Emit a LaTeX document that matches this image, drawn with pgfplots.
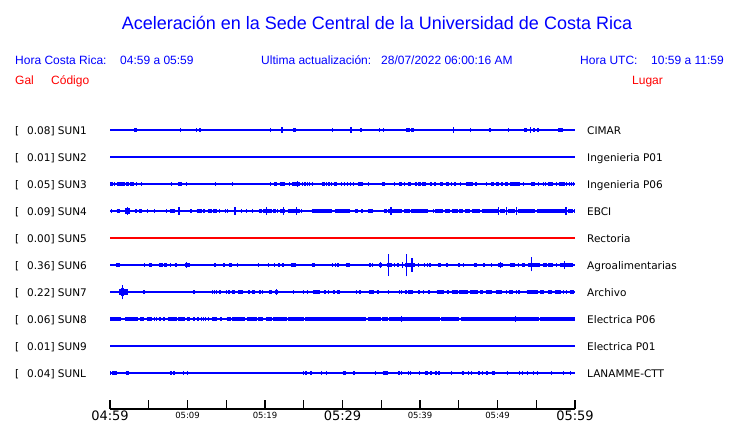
\documentclass[border=0pt]{standalone}
\usepackage{pgfplots}
\pgfplotsset{compat=1.18}
\usepackage{fontspec}
\setmainfont{DejaVu Sans}
\newfontfamily\arial{Liberation Sans}
\definecolor{pblue}{RGB}{0,0,255}
\definecolor{pred}{RGB}{255,0,0}
\pgfplotsset{
  trace/.style={pblue, line width=1.2pt, mark=none},
  blob/.style={pblue, line width=#1, mark=none},
  blob/.default=3.5pt,
  spike/.style={draw=none, mark=none, error bars/.cd, y dir=both, y fixed=#1, error mark=none,
     error bar style={draw=pblue, line width=1.3pt, solid}},
  spike/.default=0.07,
  seg/.style={pblue, line width=1.3pt, mark=none},
}
\begin{document}
\begin{tikzpicture}[x=1pt,y=1pt]
\path[use as bounding box] (0,0) rectangle (740,423);
\begin{axis}[
  at={(110pt,14pt)}, anchor=south west,
  width=465pt, height=297pt, scale only axis,
  xmin=0, xmax=60, ymin=-11.3333, ymax=-0.3333,
  clip=false, hide y axis, axis x line*=bottom,
  axis line style={black, line width=1.2pt},
  tick align=inside, major tick length=9pt,
  tick style={black, line width=1.2pt},
  xtick={0,5,...,60},
  xticklabels={04:59,{},\raisebox{2.2pt}{\fontsize{8.5}{8.5}\selectfont 05:09},{},\raisebox{2.2pt}{\fontsize{8.5}{8.5}\selectfont 05:19},{},05:29,{},\raisebox{2.2pt}{\fontsize{8.5}{8.5}\selectfont 05:39},{},\raisebox{2.2pt}{\fontsize{8.5}{8.5}\selectfont 05:49},{},05:59},
  xticklabel style={anchor=base, inner sep=0pt, yshift=-11.5pt, font=\fontsize{13}{13}\selectfont},
  unbounded coords=jump,
]
% ---------- SUN1 ----------
\addplot[trace] coordinates {(0,-1)(60,-1)};
\addplot[blob] coordinates {(3.15,-1)(3.45,-1)(nan,nan)(23.65,-1)(23.95,-1)(nan,nan)(38.25,-1)(38.75,-1)(nan,nan)(38.9,-1)(39.2,-1)(nan,nan)(48.85,-1)(49.15,-1)(nan,nan)(53.45,-1)(53.75,-1)(nan,nan)(54.6,-1)(54.85,-1)(nan,nan)(55.1,-1)(55.35,-1)(nan,nan)(57.85,-1)(58.4,-1)};
\addplot[spike] coordinates {(9.1,-1)(11.2,-1)(11.6,-1)(20.7,-1)(28.7,-1)(32.4,-1)(34.8,-1)(35.3,-1)(46.5,-1)(51.4,-1)};
\addplot[spike=0.11] coordinates {(22.2,-1)(31.1,-1)(44.3,-1)(54.3,-1)};
% ---------- SUN2 ----------
\addplot[trace] coordinates {(0,-2)(60,-2)};
% ---------- SUN3 ----------
\addplot[trace] coordinates {(0,-3)(60,-3)};
\addplot[blob] coordinates {(0,-3)(0.35,-3)(nan,nan)(0.5,-3)(0.7,-3)(nan,nan)(0.9,-3)(1.5,-3)(nan,nan)(1.6,-3)(1.9,-3)(nan,nan)(2.0,-3)(2.4,-3)(nan,nan)(2.6,-3)(3.1,-3)(nan,nan)(7.85,-3)(8.05,-3)(nan,nan)(21.9,-3)(22.6,-3)(nan,nan)(23.5,-3)(24.5,-3)(nan,nan)(26.0,-3)(26.2,-3)(nan,nan)(27.3,-3)(27.7,-3)(nan,nan)(28.85,-3)(29.25,-3)(nan,nan)(32.0,-3)(32.6,-3)(nan,nan)(35.1,-3)(35.5,-3)(nan,nan)(37.3,-3)(37.7,-3)(nan,nan)(38.5,-3)(38.9,-3)(nan,nan)(39.3,-3)(39.6,-3)(nan,nan)(39.8,-3)(40.1,-3)(nan,nan)(40.3,-3)(40.8,-3)(nan,nan)(42.6,-3)(43.0,-3)(nan,nan)(43.3,-3)(43.7,-3)(nan,nan)(46.0,-3)(46.8,-3)(nan,nan)(49.2,-3)(49.6,-3)(nan,nan)(49.8,-3)(50.2,-3)(nan,nan)(50.45,-3)(50.75,-3)(nan,nan)(51.0,-3)(51.4,-3)(nan,nan)(51.6,-3)(52.9,-3)(nan,nan)(54.3,-3)(54.8,-3)(nan,nan)(56.55,-3)(57.1,-3)(nan,nan)(57.9,-3)(58.7,-3)};
\addplot[spike] coordinates {(3.44,-3)(4.09,-3)(8.9,-3)(9.16,-3)(9.89,-3)(13.63,-3)(15.83,-3)(20.73,-3)(21.29,-3)(21.51,-3)(23.14,-3)(24.82,-3)(25.16,-3)(25.51,-3)(25.76,-3)(27.96,-3)(28.26,-3)(28.6,-3)(29.89,-3)(30.24,-3)(30.62,-3)(31.01,-3)(31.4,-3)(33.33,-3)(36.69,-3)(37.98,-3)(41.42,-3)(41.94,-3)(44.09,-3)(44.52,-3)(45.2,-3)(47.23,-3)(48.6,-3)(53.33,-3)(55.27,-3)(55.91,-3)(56.22,-3)(57.63,-3)(58.92,-3)(59.27,-3)(59.57,-3)(59.78,-3)};
\addplot[spike=0.1] coordinates {(24.22,-3)};
% ---------- SUN4 ----------
\addplot[trace] coordinates {(0,-4)(60,-4)};
\addplot[blob=4pt] coordinates {(0.86,-4)(1.29,-4)(nan,nan)(3.23,-4)(3.53,-4)(nan,nan)(3.74,-4)(4.09,-4)(nan,nan)(7.74,-4)(8.39,-4)(nan,nan)(11.18,-4)(11.83,-4)(nan,nan)(12.69,-4)(13.12,-4)(nan,nan)(13.33,-4)(13.76,-4)(nan,nan)(19.78,-4)(20.86,-4)(nan,nan)(21.08,-4)(21.38,-4)(nan,nan)(21.94,-4)(22.58,-4)(nan,nan)(22.92,-4)(24.52,-4)(nan,nan)(26.02,-4)(28.6,-4)(nan,nan)(29.03,-4)(30.97,-4)(nan,nan)(31.61,-4)(32.04,-4)(nan,nan)(32.39,-4)(32.69,-4)(nan,nan)(33.33,-4)(33.98,-4)(nan,nan)(35.4,-4)(35.7,-4)(nan,nan)(35.91,-4)(37.63,-4)(nan,nan)(37.94,-4)(38.71,-4)(nan,nan)(38.84,-4)(40.99,-4)(nan,nan)(41.94,-4)(43.01,-4)(nan,nan)(43.23,-4)(43.87,-4)(nan,nan)(44.09,-4)(44.86,-4)(nan,nan)(45.08,-4)(45.59,-4)(nan,nan)(45.81,-4)(46.45,-4)(nan,nan)(46.67,-4)(47.74,-4)(nan,nan)(47.96,-4)(50.11,-4)(nan,nan)(50.32,-4)(50.97,-4)(nan,nan)(51.4,-4)(52.26,-4)(nan,nan)(52.69,-4)(54.84,-4)(nan,nan)(55.14,-4)(58.71,-4)(nan,nan)(59.14,-4)(59.78,-4)};
\addplot[blob=6.5pt] coordinates {(1.94,-4)(2.58,-4)};
\addplot[spike] coordinates {(0.22,-4)(4.86,-4)(5.72,-4)(7.31,-4)(10.45,-4)(12.13,-4)(14.11,-4)(14.92,-4)(15.18,-4)(16.99,-4)(17.63,-4)(18.41,-4)(19.35,-4)(19.57,-4)(21.63,-4)(24.73,-4)(41.72,-4)(59.91,-4)};
\addplot[spike=0.13] coordinates {(2.24,-4)(8.9,-4)(16.13,-4)(20.22,-4)(22.37,-4)(24.09,-4)(36.26,-4)(50.11,-4)(51.18,-4)(52.47,-4)(58.84,-4)};
% ---------- SUN5 ----------
\addplot[pred, line width=1.2pt, mark=none] coordinates {(0,-5)(60,-5)};
% ---------- SUN6 ----------
\addplot[trace] coordinates {(0,-6)(60,-6)};
\addplot[blob] coordinates {(0.8,-6)(1.3,-6)(nan,nan)(5.0,-6)(5.4,-6)(nan,nan)(6.3,-6)(6.9,-6)(nan,nan)(8.35,-6)(8.6,-6)(nan,nan)(9.65,-6)(10.05,-6)(nan,nan)(14.6,-6)(14.85,-6)(nan,nan)(15.35,-6)(15.7,-6)(nan,nan)(21.7,-6)(21.95,-6)(nan,nan)(22.15,-6)(22.45,-6)(nan,nan)(23.35,-6)(23.95,-6)(nan,nan)(26.0,-6)(26.4,-6)(nan,nan)(29.3,-6)(29.6,-6)(nan,nan)(30.45,-6)(30.95,-6)(nan,nan)(34.7,-6)(35.05,-6)(nan,nan)(35.7,-6)(36.35,-6)(nan,nan)(37.0,-6)(37.3,-6)(nan,nan)(38.05,-6)(39.35,-6)(nan,nan)(42.35,-6)(42.7,-6)(nan,nan)(43.3,-6)(43.65,-6)(nan,nan)(47.0,-6)(47.3,-6)(nan,nan)(48.15,-6)(48.45,-6)(nan,nan)(50.1,-6)(50.75,-6)(nan,nan)(51.6,-6)(52.25,-6)(nan,nan)(53.1,-6)(53.55,-6)(nan,nan)(53.95,-6)(55.5,-6)(nan,nan)(55.9,-6)(56.35,-6)(nan,nan)(56.55,-6)(57.2,-6)(nan,nan)(58.05,-6)(59.8,-6)};
\addplot[spike] coordinates {(4.43,-6)(7.1,-6)(7.31,-6)(7.83,-6)(10.19,-6)(13.55,-6)(16.47,-6)(19.14,-6)(20.43,-6)(21.2,-6)(28.69,-6)(29.12,-6)(33.55,-6)(33.85,-6)(36.69,-6)(39.78,-6)(40.56,-6)(40.99,-6)(41.29,-6)(45.03,-6)(45.63,-6)(49.25,-6)(52.69,-6)(57.63,-6)};
\addplot[spike=0.12] coordinates {(9.85,-6)(34.88,-6)(37.76,-6)(50.37,-6)};
\addplot[spike=0.16] coordinates {(58.62,-6)};
\addplot[seg] coordinates {(35.91,-6.41)(35.91,-5.59)(nan,nan)(38.24,-6.42)(38.24,-5.58)(nan,nan)(38.97,-6.25)(38.97,-5.75)(nan,nan)(54.37,-6.24)(54.37,-5.71)};
% ---------- SUN7 ----------
\addplot[trace] coordinates {(0,-7)(60,-7)};
\addplot[blob=5.5pt] coordinates {(1.2,-7)(2.3,-7)};
\addplot[blob=8.5pt] coordinates {(1.4,-7)(1.85,-7)};
\addplot[seg] coordinates {(1.59,-7.27)(1.59,-6.73)};
\addplot[blob=4pt] coordinates {(4.3,-7)(4.55,-7)(nan,nan)(15.7,-7)(16.13,-7)(nan,nan)(16.56,-7)(17.2,-7)(nan,nan)(18.37,-7)(18.71,-7)(nan,nan)(20.56,-7)(20.86,-7)(nan,nan)(21.29,-7)(21.72,-7)(nan,nan)(26.24,-7)(27.1,-7)(nan,nan)(29.25,-7)(29.68,-7)(nan,nan)(33.46,-7)(34.11,-7)(nan,nan)(34.41,-7)(34.71,-7)(nan,nan)(38.49,-7)(39.14,-7)(nan,nan)(40.99,-7)(41.29,-7)(nan,nan)(42.15,-7)(43.14,-7)(nan,nan)(43.44,-7)(43.78,-7)(nan,nan)(44.09,-7)(44.86,-7)(nan,nan)(45.03,-7)(46.24,-7)(nan,nan)(46.45,-7)(47.44,-7)(nan,nan)(47.74,-7)(48.17,-7)(nan,nan)(48.47,-7)(49.33,-7)(nan,nan)(49.76,-7)(50.62,-7)(nan,nan)(51.48,-7)(52.04,-7)(nan,nan)(53.76,-7)(55.27,-7)(nan,nan)(55.48,-7)(55.96,-7)(nan,nan)(56.56,-7)(56.99,-7)(nan,nan)(57.42,-7)(58.19,-7)(nan,nan)(59.35,-7)(59.91,-7)};
\addplot[spike] coordinates {(10.84,-7)(13.2,-7)(13.46,-7)(13.76,-7)(14.19,-7)(15.05,-7)(15.35,-7)(17.94,-7)(19.35,-7)(19.66,-7)(23.66,-7)(24.95,-7)(25.46,-7)(27.74,-7)(28.17,-7)(28.9,-7)(31.83,-7)(32.26,-7)(35.91,-7)(37.38,-7)(37.63,-7)(38.19,-7)(39.87,-7)(40.43,-7)(51.18,-7)(52.47,-7)(52.77,-7)(58.49,-7)(58.92,-7)};
\addplot[spike=0.11] coordinates {(21.46,-7)};
% ---------- SUN8 ----------
\addplot[trace] coordinates {(0,-8)(60,-8)};
\addplot[blob=4.5pt] coordinates {(0,-8)(1.42,-8)(nan,nan)(1.94,-8)(3.66,-8)(nan,nan)(3.87,-8)(4.43,-8)(nan,nan)(4.73,-8)(5.38,-8)(nan,nan)(5.65,-8)(5.8,-8)(nan,nan)(5.95,-8)(6.1,-8)(nan,nan)(6.32,-8)(6.58,-8)(nan,nan)(6.88,-8)(7.1,-8)(nan,nan)(7.44,-8)(8.6,-8)(nan,nan)(8.82,-8)(9.68,-8)(nan,nan)(9.89,-8)(10.32,-8)(nan,nan)(10.75,-8)(10.97,-8)(nan,nan)(11.27,-8)(11.53,-8)(nan,nan)(11.75,-8)(11.9,-8)(nan,nan)(12.0,-8)(12.15,-8)(nan,nan)(12.3,-8)(12.45,-8)(nan,nan)(12.6,-8)(12.75,-8)(nan,nan)(13.2,-8)(13.85,-8)(nan,nan)(14.19,-8)(14.49,-8)(nan,nan)(15.05,-8)(15.61,-8)(nan,nan)(15.78,-8)(17.42,-8)(nan,nan)(17.72,-8)(18.92,-8)(nan,nan)(19.14,-8)(19.78,-8)(nan,nan)(20.13,-8)(20.86,-8)(nan,nan)(21.08,-8)(22.8,-8)(nan,nan)(22.92,-8)(25.03,-8)(nan,nan)(25.2,-8)(33.03,-8)(nan,nan)(33.33,-8)(34.97,-8)(nan,nan)(35.14,-8)(35.83,-8)(nan,nan)(36.04,-8)(42.54,-8)(nan,nan)(42.71,-8)(45.08,-8)(nan,nan)(45.29,-8)(55.35,-8)(nan,nan)(55.48,-8)(60,-8)};
\addplot[spike=0.12] coordinates {(37.63,-8)(52.34,-8)};
% ---------- SUN9 ----------
\addplot[trace] coordinates {(0,-9)(60,-9)};
% ---------- SUNL ----------
\addplot[trace] coordinates {(0,-10)(60,-10)};
\addplot[blob] coordinates {(0.3,-10)(0.95,-10)(nan,nan)(2.02,-10)(2.45,-10)(nan,nan)(7.74,-10)(7.96,-10)(nan,nan)(8.17,-10)(8.39,-10)(nan,nan)(25.81,-10)(26.11,-10)(nan,nan)(30.02,-10)(30.41,-10)(nan,nan)(35.18,-10)(35.83,-10)(nan,nan)(37.2,-10)(37.42,-10)(nan,nan)(40.65,-10)(41.08,-10)(nan,nan)(45.38,-10)(45.68,-10)(nan,nan)(46.24,-10)(46.37,-10)(nan,nan)(48.52,-10)(48.82,-10)(nan,nan)(49.25,-10)(49.68,-10)(nan,nan)(51.18,-10)(51.4,-10)};
\addplot[spike] coordinates {(0.04,-10)(9.46,-10)(9.98,-10)(24.95,-10)(25.29,-10)(27.31,-10)(27.96,-10)(31.48,-10)(34.28,-10)(37.63,-10)(38.49,-10)(38.8,-10)(39.91,-10)(41.42,-10)(42.06,-10)(42.45,-10)(44.09,-10)(46.67,-10)(47.61,-10)(48.09,-10)(52.82,-10)(53.2,-10)(53.89,-10)(54.62,-10)(55.14,-10)(56.99,-10)(58.49,-10)(59.44,-10)};
\end{axis}
% ---------- header texts ----------
\node[anchor=base, inner sep=0pt, text=pblue, font=\arial\fontsize{18}{18}\selectfont] at (377,393) {Aceleración en la Sede Central de la Universidad de Costa Rica};
\begin{scope}[every node/.style={anchor=base west, inner sep=0pt, text=pblue, font=\arial\fontsize{12}{12}\selectfont}]
\node at (15,358) {Hora Costa Rica:};
\node at (120,358) {04:59 a 05:59};
\node at (261,358) {Ultima actualización:};
\node at (381,358) {28/07/2022 06:00:16 AM};
\node at (580,358) {Hora UTC:};
\node at (651,358) {10:59 a 11:59};
\node[text=pred] at (15,338) {Gal};
\node[text=pred] at (51,338) {Código};
\node[text=pred] at (632,338) {Lugar};
\end{scope}
% ---------- station labels ----------
\begin{scope}[every node/.style={anchor=base west, inner sep=0pt, text=black, font=\fontsize{10.5}{10.5}\selectfont}]
\foreach \k/\v/\c/\p in {0/0.08/SUN1/CIMAR, 1/0.01/SUN2/Ingenieria P01, 2/0.05/SUN3/Ingenieria P06, 3/0.09/SUN4/EBCI, 4/0.00/SUN5/Rectoria, 5/0.36/SUN6/Agroalimentarias, 6/0.22/SUN7/Archivo, 7/0.06/SUN8/Electrica P06, 8/0.01/SUN9/Electrica P01, 9/0.04/SUNL/LANAMME-CTT} {
  \node at (15,288.5-27*\k) {[};
  \node at (27,288.5-27*\k) {\v] \c};
  \node at (587,288.5-27*\k) {\p};
}
\end{scope}
\end{tikzpicture}
\end{document}
